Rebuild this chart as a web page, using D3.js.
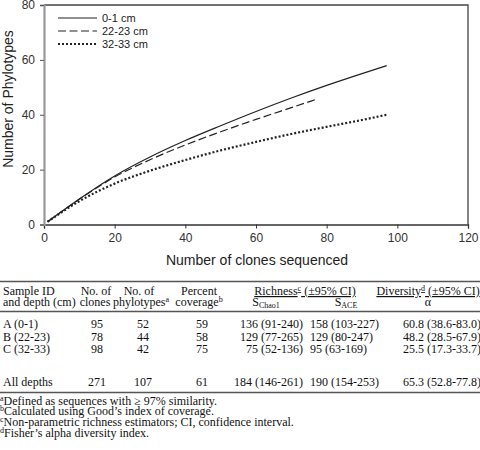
<!DOCTYPE html>
<html><head><meta charset="utf-8">
<script src="https://cdn.jsdelivr.net/npm/d3@7"></script>
<style>body{margin:0;background:#fff}svg{display:block}</style>
</head><body><svg id="c" width="480" height="450"></svg>
<script>
// ---- data ----
const seriesNames = ["0-1 cm", "22-23 cm", "32-33 cm"];
const clones0 = [1, 10, 20, 30, 40, 50, 60, 70, 80, 90, 97];
const phylo0  = [1, 9.3, 17.7, 24.6, 30.6, 36.0, 41.2, 46.1, 50.7, 55.0, 57.9];
const clones1 = [1, 10, 20, 30, 40, 50, 60, 70, 77];
const phylo1  = [1, 9.2, 17.3, 23.6, 29.0, 33.8, 38.3, 42.6, 45.6];
const clones2 = [1, 10, 20, 30, 40, 50, 60, 70, 80, 90, 97];
const phylo2  = [1, 8.5, 14.9, 19.6, 23.5, 27.0, 30.1, 33.0, 35.6, 38.1, 40.0];
const xTicks = [0, 20, 40, 60, 80, 100, 120];
const yTicks = [0, 20, 40, 60, 80];

const tableSamples = ["A (0-1)", "B (22-23)", "C (32-33)", "All depths"];
const tableClones = ["95", "78", "98", "271"];
const tablePhylotypes = ["52", "44", "42", "107"];
const tableCoverage = ["59", "58", "75", "61"];
const tableChao1 = ["136 (91-240)", "129 (77-265)", "75 (52-136)", "184 (146-261)"];
const tableACE = ["158 (103-227)", "129 (80-247)", "95 (63-169)", "190 (154-253)"];
const tableAlpha = ["60.8 (38.6-83.0)", "48.2 (28.5-67.9)", "25.5 (17.3-33.7)", "65.3 (52.8-77.8)"];
const footnotes = [
  ["a", "Defined as sequences with \u2265 97% similarity."],
  ["b", "Calculated using Good\u2019s index of coverage."],
  ["c", "Non-parametric richness estimators; CI, confidence interval."],
  ["d", "Fisher\u2019s alpha diversity index."]
];

// ---- chart ----
const svg = d3.select("#c");
const L = 44, R = 468, T = 5, B = 224.5;
const x = d3.scaleLinear().domain([0, 120]).range([L, R]);
const y = d3.scaleLinear().domain([0, 80]).range([B, T]);
const sans = "'Liberation Sans', Arial, sans-serif";
const serif = "'Liberation Serif', 'Times New Roman', serif";

svg.append("path").attr("d", `M${L},${T}H${R}V${B}`).attr("fill","none").attr("stroke","#444").attr("stroke-width",1.3);

const gx = svg.append("g").attr("transform", `translate(0,${B})`)
  .call(d3.axisBottom(x).tickValues(xTicks).tickSize(4).tickPadding(5).tickFormat(d3.format("d")));
gx.select(".domain").attr("stroke","#333").attr("stroke-width",1.3);
gx.selectAll(".tick line").attr("stroke","#333");
gx.selectAll("text").attr("font-family", sans).attr("font-size", 12).attr("fill","#333");

const gy = svg.append("g").attr("transform", `translate(${L},0)`)
  .call(d3.axisLeft(y).tickValues(yTicks).tickSize(4).tickPadding(5).tickFormat(d3.format("d")));
gy.select(".domain").attr("stroke","#999").attr("stroke-width",2.2);
gy.selectAll(".tick line").attr("stroke","#555");
gy.selectAll("text").attr("font-family", sans).attr("font-size", 12).attr("fill","#333");

svg.append("text").attr("x", 257).attr("y", 265).attr("text-anchor","middle")
  .attr("font-family", sans).attr("font-size", 14).attr("fill","#222").text("Number of clones sequenced");
svg.append("text").attr("transform","translate(13,99) rotate(-90)").attr("text-anchor","middle")
  .attr("font-family", sans).attr("font-size", 14).attr("fill","#222").text("Number of Phylotypes");

const styles = [
  {dash: null, w: 1.2},
  {dash: "8,3.5", w: 1.2},
  {dash: "2,2", w: 2.2}
];
const series = [
  d3.zip(clones0, phylo0), d3.zip(clones1, phylo1), d3.zip(clones2, phylo2)
];
const line = d3.line().x(d => x(d[0])).y(d => y(d[1])).curve(d3.curveMonotoneX);
series.forEach((s, i) => {
  svg.append("path").datum(s).attr("d", line).attr("fill","none")
    .attr("stroke","#222").attr("stroke-width", styles[i].w)
    .attr("stroke-dasharray", styles[i].dash);
});

// legend
seriesNames.forEach((n, i) => {
  const ly = 18 + i * 13;
  svg.append("line").attr("x1",58).attr("x2",97).attr("y1",ly).attr("y2",ly)
    .attr("stroke","#222").attr("stroke-width", styles[i].w).attr("stroke-dasharray", styles[i].dash);
  svg.append("text").attr("x",102).attr("y",ly+4).attr("font-family",sans).attr("font-size",11)
    .attr("fill","#222").text(n);
});

// ---- table ----
const tg = svg.append("g").attr("font-family", serif).attr("font-size", 12).attr("fill","#111");
function rule(yy){ tg.append("line").attr("x1",0).attr("x2",480).attr("y1",yy).attr("y2",yy).attr("stroke","#555").attr("stroke-width",1.4); }
rule(281.5); rule(311.5); rule(392.5);

function txt(xx, yy, s, anchor, sup){
  const t = tg.append("text").attr("x",xx).attr("y",yy).attr("text-anchor",anchor||"start");
  t.append("tspan").text(s);
  if (sup) t.append("tspan").attr("font-size",8).attr("dy",-4).text(sup);
  return t;
}
txt(3, 295, "Sample ID");
txt(3, 306, "and depth (cm)");
txt(96, 295, "No. of", "middle");
txt(95, 306, "clones", "middle");
txt(139, 295, "No. of", "middle");
txt(141, 306, "phylotypes", "middle", "a");
txt(199, 295, "Percent", "middle");
txt(199, 306, "coverage", "middle", "b");
const rh = tg.append("text").attr("x",305).attr("y",295).attr("text-anchor","middle").attr("text-decoration","underline");
rh.append("tspan").text("Richness");
rh.append("tspan").attr("font-size",8).attr("dy",-4).text("c");
rh.append("tspan").attr("dy",4).text(" (\u00b195% CI)");
const dh = tg.append("text").attr("x",428).attr("y",295).attr("text-anchor","middle").attr("text-decoration","underline");
dh.append("tspan").text("Diversity");
dh.append("tspan").attr("font-size",8).attr("dy",-4).text("d");
dh.append("tspan").attr("dy",4).text(" (\u00b195% CI)");
const sc = tg.append("text").attr("x",266).attr("y",306).attr("text-anchor","middle");
sc.append("tspan").text("S");
sc.append("tspan").attr("font-size",8).attr("dy",1.5).text("Chao1");
const sa = tg.append("text").attr("x",346).attr("y",306).attr("text-anchor","middle");
sa.append("tspan").text("S");
sa.append("tspan").attr("font-size",8).attr("dy",1.5).text("ACE");
txt(428, 306, "\u03b1", "middle");

const rowY = [328, 341, 352.5, 385.5];
tableSamples.forEach((s, i) => {
  const yy = rowY[i];
  txt(3, yy, s);
  txt(97, yy, tableClones[i], "middle");
  txt(143, yy, tablePhylotypes[i], "middle");
  txt(202, yy, tableCoverage[i], "middle");
  txt(303, yy, tableChao1[i], "end");
  txt(310, yy, tableACE[i]);
  txt(403, yy, tableAlpha[i]);
});
footnotes.forEach((f, i) => {
  const t = tg.append("text").attr("x",0).attr("y",404.5 + i*10.7);
  t.append("tspan").attr("font-size",8).attr("dy",-4).text(f[0]);
  t.append("tspan").attr("dy",4).text(f[1]);
});
</script></body></html>
